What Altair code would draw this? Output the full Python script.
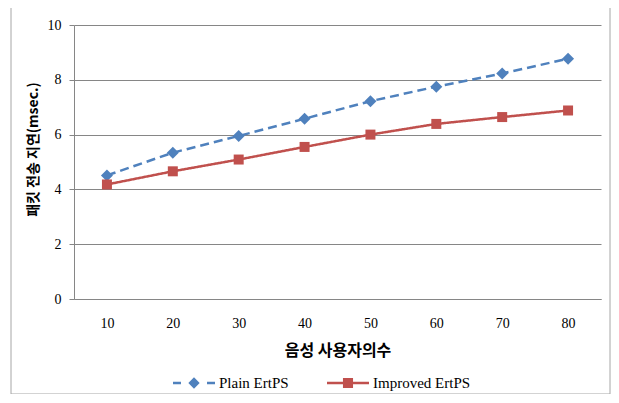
import altair as alt
import pandas as pd

users = [10, 20, 30, 40, 50, 60, 70, 80]
plain = [4.51, 5.34, 5.95, 6.58, 7.22, 7.75, 8.23, 8.77]
improved = [4.18, 4.66, 5.09, 5.55, 6.00, 6.39, 6.64, 6.88]
series_names = ["Plain ErtPS", "Improved ErtPS"]
colors = ["#4F81BD", "#C0504D"]
y_ticks = [0, 2, 4, 6, 8, 10]

rows = []
for u, p, i in zip(users, plain, improved):
    rows.append({"users": u, "value": p, "series": series_names[0], "s2": series_names[0]})
    rows.append({"users": u, "value": i, "series": series_names[1], "s2": series_names[1]})
df = pd.DataFrame(rows)

GRID = "#868686"
SERIF = "Liberation Serif"
KR = "Noto Sans CJK KR"

# legend symbols: line + marker drawn as one filled path (unit = half of symbol width)
LEG_PLAIN = ("M-1,-0.06H-0.62V0.06H-1Z M0.62,-0.06H1V0.06H0.62Z "
             "M-0.27,0L0,-0.27L0.27,0L0,0.27Z")
LEG_IMPROVED = "M-1,-0.06H1V0.06H-1Z M-0.24,-0.24H0.24V0.24H-0.24Z"

x_enc = alt.X(
    "users:O",
    scale=alt.Scale(type="point", padding=0.5),
    axis=alt.Axis(
        title="음성 사용자의수",
        labelAngle=0,
        ticks=False,
        grid=False,
        domainColor=GRID,
        labelFont=SERIF,
        labelFontSize=14,
        labelColor="black",
        labelPadding=17,
        titleFont=KR,
        titleFontSize=16,
        titleFontWeight="bold",
        titleColor="black",
        titleY=51,
        titleBaseline="middle",
    ),
)
y_enc = alt.Y(
    "value:Q",
    scale=alt.Scale(domain=[0, 10], nice=False),
    axis=alt.Axis(
        values=y_ticks,
        title="패킷 전송 지연(msec.)",
        grid=True,
        gridColor=GRID,
        domainColor=GRID,
        tickColor=GRID,
        tickSize=5,
        labelFont=SERIF,
        labelFontSize=14,
        labelColor="black",
        labelPadding=8,
        titleFont=KR,
        titleFontSize=14,
        titleFontWeight="bold",
        titleColor="black",
        titleX=-41,
        titleY=124,
        titleAlign="center",
        titleBaseline="middle",
        titleAngle=270,
    ),
)

legend = alt.Legend(
    title=None,
    orient="none",
    legendX=99,
    legendY=337,
    direction="horizontal",
    symbolSize=1764,
    symbolStrokeWidth=0,
    symbolOpacity=1,
    labelFont=SERIF,
    labelFontSize=15,
    labelColor="black",
    labelOffset=4,
    columnPadding=38,
)

base = alt.Chart(df)
color_main = alt.Color("series:N", scale=alt.Scale(domain=series_names, range=colors), legend=None)

lines = base.mark_line(strokeWidth=2.5).encode(
    x=x_enc,
    y=y_enc,
    color=color_main,
    strokeDash=alt.StrokeDash(
        "series:N", scale=alt.Scale(domain=series_names, range=[[9, 5], [1, 0]]), legend=None
    ),
)

points = base.mark_point(filled=True, opacity=1).encode(
    x=x_enc,
    y=y_enc,
    color=color_main,
    shape=alt.Shape("series:N", scale=alt.Scale(domain=series_names, range=["diamond", "square"]), legend=None),
    size=alt.Size("series:N", scale=alt.Scale(domain=series_names, range=[144, 100]), legend=None),
)

# legend-only layer (no data rows survive the filter; entries come from the scale domain)
legend_layer = base.transform_filter("false").mark_point(filled=True).encode(
    x=x_enc,
    y=y_enc,
    color=alt.Color("s2:N", scale=alt.Scale(domain=series_names, range=colors), legend=legend),
    shape=alt.Shape("s2:N", scale=alt.Scale(domain=series_names, range=[LEG_PLAIN, LEG_IMPROVED]), legend=legend),
)

frame = alt.Chart(pd.DataFrame({"a": [0]})).mark_rect(
    fill="transparent", stroke="#A6A6A6", strokeWidth=1
).encode(
    x=alt.value(-63), x2=alt.value(536), y=alt.value(-18), y2=alt.value(369)
)

chart = (
    alt.layer(frame, lines, points, legend_layer)
    .resolve_scale(color="independent", shape="independent")
    .properties(
        width=527,
        height=274,
        autosize=alt.AutoSizeParams(type="none"),
        padding={"left": 66, "top": 17, "right": 10, "bottom": 95},
        background="white",
    )
    .configure_view(stroke=None)
)

chart.save("out.html", embed_options={"renderer": "svg", "actions": False})
